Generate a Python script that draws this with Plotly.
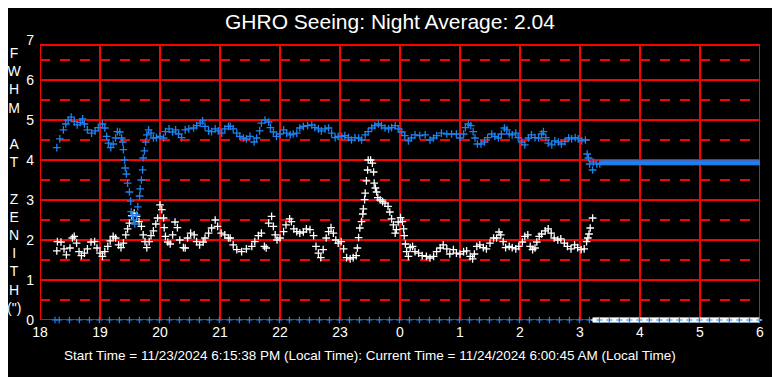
import plotly.graph_objects as go

# ---------------- data (hours since midnight of start day; 24+ = next day) ----------------
blue_x = [18.28, 18.33, 18.39, 18.43, 18.47, 18.52, 18.57, 18.62, 18.67, 18.71, 18.74, 18.79, 18.86, 18.92,
          18.97, 19.04, 19.08, 19.11, 19.14, 19.18, 19.22, 19.26, 19.29, 19.33, 19.36, 19.38, 19.39, 19.41,
          19.42, 19.44, 19.46, 19.49, 19.51, 19.52, 19.54, 19.56, 19.58, 19.61, 19.63, 19.66, 19.67, 19.69,
          19.71, 19.72, 19.74, 19.76, 19.78, 19.81, 19.85, 19.89, 19.94, 20.0, 20.06, 20.09, 20.15, 20.21,
          20.26, 20.31, 20.36, 20.42, 20.48, 20.56, 20.61, 20.67, 20.71, 20.75, 20.81, 20.86, 20.92, 20.97,
          21.03, 21.08, 21.14,
          21.17, 21.22, 21.28, 21.33, 21.39, 21.44, 21.5, 21.57, 21.61, 21.66, 21.69, 21.75, 21.81, 21.84,
          21.89, 21.94, 22.0, 22.06, 22.11, 22.17, 22.22, 22.28, 22.33, 22.39, 22.46, 22.53, 22.58, 22.64,
          22.69, 22.75, 22.81, 22.86, 22.92, 22.97, 23.03, 23.08, 23.14, 23.19, 23.25, 23.31, 23.36, 23.42,
          23.47, 23.53, 23.58, 23.64, 23.69, 23.75, 23.81, 23.86, 23.92, 23.97, 24.03, 24.08, 24.14, 24.19,
          24.25, 24.33, 24.42, 24.5, 24.56, 24.61, 24.69, 24.78, 24.86, 24.94, 25.0, 25.06, 25.09, 25.14,
          25.18, 25.22, 25.25, 25.29, 25.35, 25.41, 25.46, 25.53, 25.58, 25.64, 25.69, 25.74, 25.78, 25.82,
          25.87, 25.93, 25.97, 26.03, 26.08, 26.14, 26.19, 26.25, 26.31, 26.36, 26.39, 26.43, 26.47, 26.53,
          26.58, 26.64, 26.69, 26.75, 26.81, 26.86, 26.92, 26.97, 27.03, 27.09, 27.12, 27.14, 27.16, 27.21,
          27.22, 27.28, 27.33]
blue_y = [4.31, 4.53, 4.755, 4.9, 5.0, 5.07, 4.96, 4.88, 4.94, 5.03, 4.9, 4.755, 4.67, 4.73,
          4.81, 4.9, 4.8, 4.59, 4.42, 4.31, 4.4, 4.55, 4.71, 4.7, 4.55, 4.45, 4.26, 4.0,
          3.8, 3.65, 3.42, 3.2, 2.97, 2.71, 2.59, 2.5, 2.4, 2.63, 2.83, 3.1, 3.28, 3.5,
          3.755, 4.05, 4.23, 4.45, 4.63, 4.755, 4.67, 4.55, 4.56, 4.59, 4.55, 4.71, 4.78, 4.7,
          4.755, 4.65, 4.56, 4.755, 4.78, 4.8, 4.86, 4.92, 4.98, 4.84, 4.73, 4.71, 4.78, 4.73,
          4.67, 4.78, 4.84,
          4.84, 4.78, 4.67, 4.59, 4.55, 4.53, 4.59, 4.45, 4.55, 4.73, 4.92, 5.0, 4.95, 4.81,
          4.7, 4.59, 4.65, 4.755, 4.67, 4.63, 4.65, 4.67, 4.8, 4.84, 4.86, 4.88, 4.81, 4.78,
          4.73, 4.78, 4.8, 4.67, 4.56, 4.59, 4.59, 4.61, 4.56, 4.5, 4.56, 4.55, 4.5, 4.63,
          4.71, 4.8, 4.86, 4.9, 4.86, 4.8, 4.78, 4.81, 4.86, 4.78, 4.7, 4.61, 4.48, 4.55,
          4.63, 4.61, 4.63, 4.5, 4.55, 4.61, 4.67, 4.65, 4.65, 4.65, 4.55, 4.65, 4.81, 4.9,
          4.86, 4.71, 4.55, 4.4, 4.4, 4.45, 4.56, 4.65, 4.59, 4.55, 4.65, 4.8, 4.755, 4.65,
          4.63, 4.67, 4.56, 4.45, 4.38, 4.55, 4.63, 4.56, 4.55, 4.65, 4.71, 4.56, 4.42, 4.38,
          4.48, 4.45, 4.4, 4.46, 4.55, 4.53, 4.56, 4.53, 4.48, 4.5, 4.15, 4.05, 3.9, 3.75,
          3.95, 3.9, 3.9]

white_x = [18.28, 18.29, 18.35, 18.4, 18.44, 18.5, 18.54, 18.57, 18.61, 18.65, 18.69, 18.74, 18.79, 18.85,
           18.91, 18.95, 19.0, 19.04, 19.08, 19.13, 19.17, 19.22, 19.26, 19.31, 19.35, 19.39, 19.43, 19.46,
           19.49, 19.53, 19.57, 19.61, 19.65, 19.69, 19.72, 19.75, 19.78, 19.82, 19.85, 19.89, 19.93, 19.96,
           20.0, 20.03, 20.06, 20.07, 20.09, 20.13, 20.17, 20.21, 20.25, 20.29, 20.33, 20.39, 20.42, 20.46,
           20.51, 20.57, 20.61, 20.66, 20.72, 20.75, 20.81, 20.86, 20.92, 20.96, 21.02, 21.08, 21.14,
           21.17, 21.22, 21.28, 21.36, 21.44, 21.53, 21.58, 21.64, 21.69, 21.74, 21.77, 21.81, 21.86, 21.89,
           21.92, 21.95, 22.0, 22.06, 22.1, 22.16, 22.19, 22.23, 22.28, 22.33, 22.39, 22.44, 22.5, 22.56,
           22.6, 22.64, 22.68, 22.72, 22.77, 22.81, 22.85, 22.89, 22.93, 22.97, 23.02, 23.06, 23.11, 23.17,
           23.22, 23.27, 23.29, 23.31, 23.33, 23.36, 23.38, 23.39, 23.41, 23.42, 23.44, 23.46, 23.47, 23.51,
           23.54, 23.56, 23.57, 23.59, 23.61, 23.63, 23.67, 23.71, 23.75, 23.8, 23.83, 23.86, 23.89, 23.92,
           23.94, 23.97, 24.01, 24.04, 24.06, 24.07, 24.09, 24.11, 24.14, 24.17, 24.21,
           24.25, 24.31, 24.37, 24.44, 24.5, 24.56, 24.61, 24.67, 24.72, 24.78, 24.83, 24.89, 24.94, 25.0,
           25.06, 25.11, 25.17, 25.21, 25.24, 25.28, 25.33, 25.39, 25.44, 25.5, 25.56, 25.61, 25.65, 25.68,
           25.72, 25.76, 25.82, 25.87, 25.93, 25.98, 26.04, 26.08, 26.13, 26.17, 26.21, 26.25, 26.28, 26.32,
           26.36, 26.42, 26.47, 26.52, 26.57, 26.63, 26.68, 26.74, 26.79, 26.85, 26.91, 26.96, 27.02, 27.07,
           27.11, 27.13, 27.15, 27.17, 27.21]
white_y = [1.73, 1.96, 1.95, 1.78, 1.63, 1.8, 2.05, 2.09, 1.92, 1.71, 1.61, 1.67, 1.78, 1.95,
           1.96, 1.8, 1.67, 1.59, 1.71, 1.84, 1.98, 2.09, 2.05, 1.88, 1.81, 1.92, 2.13, 2.28,
           2.42, 2.61, 2.67, 2.59, 2.46, 2.34, 2.13, 1.96, 1.81, 1.96, 2.11, 2.23, 2.4, 2.55,
           2.88, 2.76, 2.55, 2.31, 2.09, 1.95, 1.9, 2.13, 2.45, 2.31, 2.0, 1.81, 1.8, 2.05,
           2.17, 2.13, 1.96, 1.88, 1.95, 2.05, 2.17, 2.3, 2.5, 2.34, 2.17, 2.13, 2.05,
           2.05, 1.88, 1.76, 1.71, 1.78, 1.84, 1.96, 2.11, 2.17, 1.84, 1.8, 2.42, 2.59, 2.34,
           2.13, 2.0, 2.05, 2.21, 2.38, 2.53, 2.46, 2.28, 2.21, 2.17, 2.2, 2.28, 2.26, 2.11,
           1.84, 1.67, 1.56, 1.76, 2.05, 2.21, 2.31, 2.17, 2.0, 1.92, 1.96, 1.78, 1.56, 1.53,
           1.56, 1.61, 1.8, 2.06, 2.3, 2.46, 2.65, 2.78, 3.01, 3.17, 3.48, 3.75, 4.0, 4.0,
           3.92, 3.7, 3.42, 3.3, 3.2, 3.06, 3.0, 2.96, 2.92, 2.84, 2.7, 2.53, 2.38, 2.17,
           2.26, 2.45, 2.56, 2.46, 2.28, 2.11, 1.9, 1.71, 1.59, 1.81, 1.84,
           1.71, 1.67, 1.61, 1.59, 1.55, 1.59, 1.71, 1.8, 1.88, 1.78, 1.65, 1.76, 1.67, 1.65,
           1.71, 1.73, 1.59, 1.53, 1.65, 1.84, 1.88, 1.81, 1.78, 1.92, 2.05, 2.05, 2.2, 2.13,
           1.96, 1.81, 1.84, 1.81, 1.78, 1.84, 1.95, 2.09, 2.13, 1.84, 1.76, 1.8, 1.95, 2.09,
           2.15, 2.23, 2.28, 2.17, 2.05, 2.0, 2.03, 1.92, 1.84, 1.78, 1.88, 1.81, 1.76, 1.78,
           1.96, 2.05, 2.15, 2.3, 2.55]

# flat tail of the blue series after the data stops (one sample per minute)
flat_blue_level = 3.93
flat_blue_x = [27.35 + m / 60 for m in range(160)]
flat_blue_y = [flat_blue_level] * len(flat_blue_x)

# zero-level status markers
zero_blue_x = [18.25, 18.32] + [18.49 + k / 6 for k in range(70)]
zero_white_x = [27.22 + m / 60 for m in range(168)]

tick_vals = list(range(18, 31))
tick_text = ["18", "19", "20", "21", "22", "23", "0", "1", "2", "3", "4", "5", "6"]
y_ticks = list(range(0, 8))

title_text = "GHRO Seeing: Night Average: 2.04"
footer_text = "Start Time = 11/23/2024 6:15:38 PM (Local Time): Current Time = 11/24/2024 6:00:45 AM (Local Time)"
ylabel_letters = ["F", "W", "H", "M", " ", "A", "T", " ", "Z", "E", "N", "I", "T", "H", "(\")"]

# ---------------- styling ----------------
BLUE = "#1E82F0"
WHITE = "#FFFFFF"
RED = "#FF0000"
SANS = "Liberation Sans, Arial, sans-serif"
TOP = 6.875  # plot frame stops slightly below the '7' label

# The page body has an 8px margin: size the figure so the plot lands where the reference's does.
OFF = 8
FIG_W, FIG_H = 780 - OFF, 377 - OFF


def cross(color, size=5.5, width=1.3):
    return dict(symbol="cross-thin", size=size, color=color, line=dict(color=color, width=width))


fig = go.Figure()
fig.add_trace(go.Scatter(x=white_x, y=white_y, mode="markers", marker=cross(WHITE), hoverinfo="skip"))
fig.add_trace(go.Scatter(x=zero_white_x, y=[0] * len(zero_white_x), mode="markers", cliponaxis=False,
                         marker=cross(WHITE, 3.5, 1.5), hoverinfo="skip"))
fig.add_trace(go.Scatter(x=blue_x, y=blue_y, mode="markers", marker=cross(BLUE), hoverinfo="skip"))
fig.add_trace(go.Scatter(x=flat_blue_x, y=flat_blue_y, mode="markers", marker=cross(BLUE, 3.5, 1.5),
                         hoverinfo="skip"))
fig.add_trace(go.Scatter(x=zero_blue_x, y=[0] * len(zero_blue_x), mode="markers", cliponaxis=False,
                         marker=cross(BLUE, 4.5, 1.2), hoverinfo="skip"))

shapes = []
for k in range(7):
    yv = k + 0.5
    shapes.append(dict(type="line", x0=18, x1=30, y0=yv, y1=yv, layer="below",
                       line=dict(color=RED, width=2, dash="10px,10px")))
for yv in list(range(0, 7)) + [TOP]:
    shapes.append(dict(type="line", x0=18, x1=30, y0=yv, y1=yv, layer="below",
                       line=dict(color=RED, width=2)))
for xv in tick_vals:
    shapes.append(dict(type="line", x0=xv, x1=xv, y0=0, y1=TOP, layer="below",
                       line=dict(color=RED, width=2)))

fig.update_layout(
    width=FIG_W, height=FIG_H, autosize=False,
    margin=dict(l=40 - OFF, r=20, t=40 - OFF, b=57),
    paper_bgcolor="black", plot_bgcolor="black",
    showlegend=False,
    title=dict(text=title_text, x=(390 - OFF) / FIG_W, xref="container", xanchor="center",
               y=1 - (22 - OFF) / FIG_H, yref="container", yanchor="middle",
               font=dict(family=SANS, size=21, color=WHITE)),
    xaxis=dict(range=[18, 30], tickvals=tick_vals, ticktext=tick_text, showgrid=False, zeroline=False,
               showline=False, ticks="", tickfont=dict(family=SANS, size=14, color=WHITE), fixedrange=True,
               automargin=False, ticklabelstandoff=2),
    yaxis=dict(range=[0, 7], tickvals=y_ticks, showgrid=False, zeroline=False, showline=False, ticks="",
               tickfont=dict(family=SANS, size=14, color=WHITE), fixedrange=True, automargin=False,
               ticklabelstandoff=5),
    shapes=shapes,
    annotations=[
        dict(text="<br>".join(ylabel_letters), xref="paper", yref="paper", x=(14 - 40) / 720,
             y=(320 - 180.5) / 280, xanchor="center", yanchor="middle", showarrow=False, align="center",
             font=dict(family=SANS, size=14, color=WHITE)),
        dict(text=footer_text, xref="paper", yref="paper", x=(62 - 40) / 720, y=(320 - 355) / 280,
             xanchor="left", yanchor="middle", showarrow=False,
             font=dict(family=SANS, size=13.5, color=WHITE)),
    ],
)

fig.write_html("out.html")
